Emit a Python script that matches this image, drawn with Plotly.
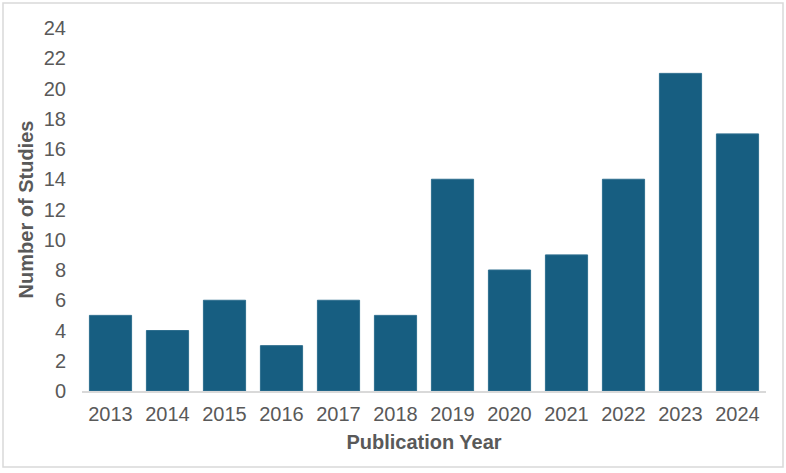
import plotly.graph_objects as go

years = ["2013", "2014", "2015", "2016", "2017", "2018", "2019", "2020", "2021", "2022", "2023", "2024"]
studies = [5, 4, 6, 3, 6, 5, 14, 8, 9, 14, 21, 17]

L, R, T, B = 82, 20, 28, 82
W, H = 786, 473
pw = W - L - R
ph = H - T - B

fig = go.Figure(go.Bar(
    x=years, y=studies,
    marker=dict(color="#175E81", line=dict(color="#2F6F8F", width=1)),
    width=0.74,
))

fig.update_layout(
    width=W, height=H,
    margin=dict(l=L, r=R, t=T, b=B),
    paper_bgcolor="white", plot_bgcolor="white",
    showlegend=False,
    font=dict(family="Liberation Sans, Arial, sans-serif", color="#595959"),
    xaxis=dict(
        type="category",
        showline=True, linecolor="#D9D9D9", linewidth=1.5,
        showgrid=False, ticks="",
        tickfont=dict(size=20, color="#595959"),
        ticklabelstandoff=4,
        title=dict(text="<b>Publication Year</b>", font=dict(size=20, color="#595959"), standoff=11),
    ),
    yaxis=dict(
        range=[0, 24], dtick=2, tick0=0,
        showline=False, showgrid=False, zeroline=False, ticks="",
        tickfont=dict(size=20, color="#595959"),
        ticklabelstandoff=15,
        title=dict(text="<b>Number of Studies</b>", font=dict(size=20, color="#595959"), standoff=4),
    ),
    shapes=[dict(
        type="rect", xref="paper", yref="paper",
        x0=(3 - L) / pw, x1=(783 - L) / pw,
        y0=(T + ph - 467) / ph, y1=(T + ph - 3) / ph,
        line=dict(color="#D9D9D9", width=1.5), fillcolor="rgba(0,0,0,0)", layer="below",
    )],
)

fig.write_html("out.html")
